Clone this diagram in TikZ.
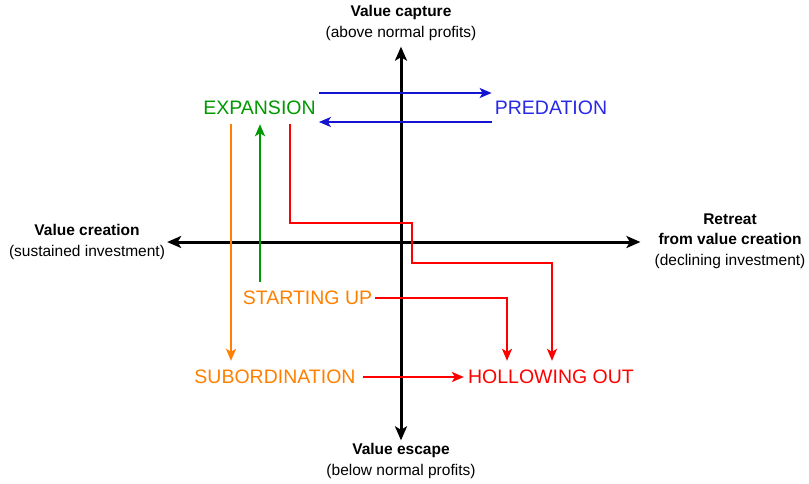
\documentclass[tikz,border=0pt]{standalone}
\usepackage{fontspec}
\setmainfont{Liberation Sans}
\usetikzlibrary{arrows.meta}
\definecolor{cgreen}{RGB}{0,153,0}
\definecolor{cblue}{RGB}{20,20,210}
\definecolor{cbluet}{RGB}{40,40,230}
\definecolor{corange}{RGB}{255,128,0}
\definecolor{cred}{RGB}{255,0,0}
\begin{document}
\begin{tikzpicture}[x=1pt,y=-1pt,
  quad/.style={inner sep=3pt,minimum height=32pt,font=\fontsize{19.5}{23}\selectfont},
  axlab/.style={inner sep=1pt,align=center,font=\fontsize{15.5}{20.5}\selectfont},
  axis/.style={line width=3pt,{Stealth[length=14pt,width=12pt,inset=3.5pt]}-{Stealth[length=14pt,width=12pt,inset=3.5pt]}},
  conn/.style={line width=2pt,-{Stealth[length=12pt,width=10pt,inset=3pt]}}]
\useasboundingbox (0,0) rectangle (809,483);
% axis labels
\node[axlab] (top) at (401,23) {\textbf{Value capture}\\(above normal profits)};
\node[axlab] (bot) at (401,461) {\textbf{Value escape}\\(below normal profits)};
\node[axlab] (left) at (87,242) {\textbf{Value creation}\\(sustained investment)};
\node[axlab] (right) at (730,241) {\textbf{Retreat}\\\textbf{from value creation}\\(declining investment)};
% axes
\draw[axis,shorten <=2pt,shorten >=5pt] (bot.north) -- (top.south);
\draw[axis,shorten <=1pt,shorten >=13pt] (left.east) -- (left.east -| right.west);
% quadrant labels
\node[quad,text=cgreen] (exp) at (259.5,108) {EXPANSION};
\node[quad,text=cbluet] (pred) at (551,108) {PREDATION};
\node[quad,text=corange] (start) at (307.5,298) {STARTING UP};
\node[quad,text=corange] (sub) at (275,377) {SUBORDINATION};
\node[quad,text=cred] (hol) at (551,377) {HOLLOWING OUT};
% connectors
\draw[conn,cblue] ([yshift=15pt]exp.east) -- ([yshift=15pt]pred.west);
\draw[conn,cblue] ([yshift=-14pt]pred.west) -- ([yshift=-14pt]exp.east);
\draw[conn,corange] ([xshift=-28.5pt]exp.south) -- ([xshift=-44pt]sub.north);
\draw[conn,cgreen] ([xshift=-47.5pt]start.north) -- ([xshift=0.5pt]exp.south);
\draw[conn,cred] ([xshift=30.5pt]exp.south) -- ++(0,99) -- ++(122,0) -- ++(0,40) -| ([xshift=1pt]hol.north);
\draw[conn,cred] (start.east) -| ([xshift=-44pt]hol.north);
\draw[conn,cred] ([xshift=4pt]sub.east) -- ([xshift=-1pt]hol.west);
\end{tikzpicture}
\end{document}
